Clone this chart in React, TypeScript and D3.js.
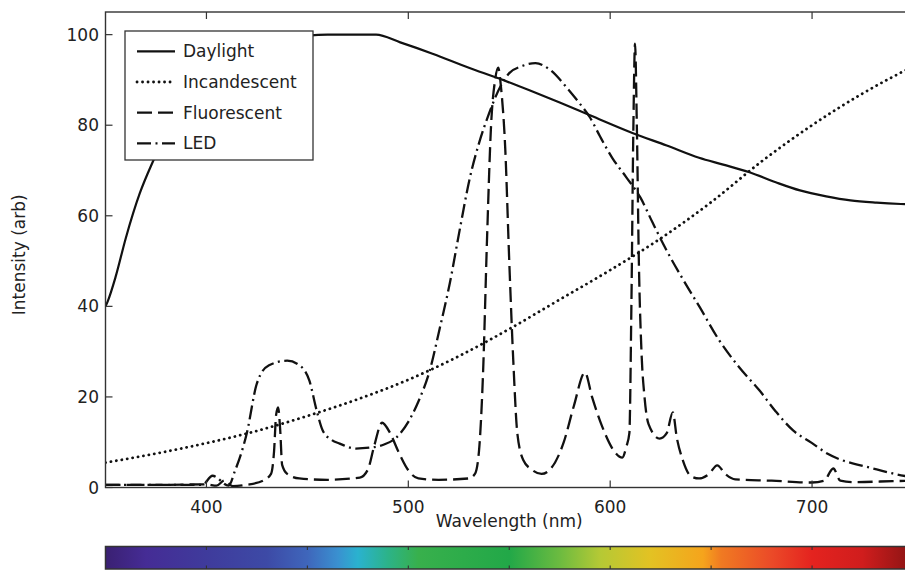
import React from "react";
import * as d3 from "d3";

// ---------- data ----------
const seriesNames = ["Daylight", "Incandescent", "Fluorescent", "LED"];

const xTicks = [400, 500, 600, 700];
const yTicks = [0, 20, 40, 60, 80, 100];
const spectrumTicks = [400, 450, 500, 550, 600, 650, 700, 750];

const daylightNm = [350, 351, 355, 360, 367, 373, 380, 390, 400, 410, 420, 430, 440, 450, 460, 470, 484, 496, 512, 530, 545, 560, 575, 590, 611, 628, 644, 656, 669, 682, 694, 707, 719, 732, 744, 750];
const daylightVal = [40, 41, 46.5, 55, 65, 71.5, 78, 85, 90, 93.5, 96, 98, 99.3, 99.8, 100, 100, 100, 98.3, 95.8, 92.7, 90.3, 87.7, 85, 82.2, 78.3, 75.5, 72.8, 71.3, 69.6, 67.4, 65.6, 64.3, 63.4, 62.9, 62.6, 62.5];

const incandescentNm = [350, 375, 400, 425, 450, 475, 500, 525, 550, 575, 600, 625, 650, 675, 700, 725, 750];
const incandescentVal = [5.5, 7.5, 9.8, 12.5, 15.8, 19.5, 23.8, 29, 35, 41.5, 48, 55, 63, 72, 80, 87, 93];

const fluorescentNm = [350, 380, 400, 405, 409, 413, 420, 428, 432, 433.5, 434.5, 435.5, 436.5, 437.5, 440, 446, 460, 476, 480, 483, 487, 491, 495, 500, 505, 515, 530, 533, 535, 537, 539, 541, 543, 544.5, 546, 548, 550, 552, 554, 557, 561, 566, 571, 577, 582, 587.5, 591, 596, 602, 606, 608, 609.5, 610.5, 611.5, 612.3, 613.2, 614.2, 615.5, 617, 619, 624.5, 628, 631, 633, 636, 640, 644, 649, 653, 657, 662, 680, 700, 706, 710.5, 714, 720, 740, 750];
const fluorescentVal = [0.6, 0.6, 0.7, 0.4, 1.6, 0.3, 0.6, 1.5, 3, 8, 16, 17.7, 13, 5, 3, 2, 1.7, 2.2, 4, 9, 14.3, 12, 8, 3.8, 2, 1.7, 2, 3, 8, 25, 55, 80, 90, 92.7, 88, 75, 50, 28, 12, 6, 4, 3, 4.4, 10, 18, 25.4, 20, 13.5, 8, 6.6, 9, 12, 40, 80, 98, 80, 50, 30, 20, 14, 10.8, 12, 16.6, 11, 6, 2.5, 2, 3, 4.9, 3, 1.8, 1.5, 1.1, 1.5, 4.2, 1.5, 1.2, 1.4, 1.5];

const ledNm = [350, 380, 398, 403, 411, 414, 420, 425, 431, 440, 446, 451, 454.6, 457.6, 462, 466, 474, 481, 488, 494, 500, 505, 510.6, 515.5, 520.5, 525.5, 530.5, 535, 540, 545, 550, 556, 563, 570, 578.5, 584, 590, 595, 601, 608, 615, 621, 628, 636, 644.5, 654, 664, 674, 682, 690.6, 700, 707.5, 715, 724, 732, 740, 750];
const ledVal = [0.6, 0.6, 0.6, 2.6, 0.4, 3.5, 12, 23, 27, 28, 27, 23.6, 17, 12.6, 10.5, 9.7, 8.6, 8.8, 9.5, 11, 14.5, 19, 25.8, 35, 45, 57, 68.4, 76, 82.6, 88, 91.5, 93, 93.7, 92.3, 88.3, 85.3, 81.7, 77.5, 72.8, 68.5, 64, 58.5, 52.3, 46, 39.7, 32.5, 26.5, 21.4, 16.8, 12.6, 9.8, 7.5, 6, 4.9, 4, 3.1, 2.2];

const spectrumNm = [350, 370, 400, 430, 450, 465, 475, 490, 505, 550, 575, 595, 620, 646, 655, 680, 700, 725, 750];
const spectrumColors = ["#3a2072", "#452c95", "#3f3b9c", "#3d4aa6", "#3f66bb", "#3a90d0", "#2ab2cf", "#2cb388", "#38b04c", "#22a848", "#6cbb40", "#b5c935", "#e3c223", "#f5a41c", "#f07a22", "#eb4a28", "#e4231f", "#d01d1d", "#8a1414"];

// ---------- layout ----------
const W = 905;
const H = 571;
const plot = { left: 105.5, right: 913, top: 12, bottom: 487.5 };
const bar = { top: 546.5, bottom: 569 };
const FONT = "'DejaVu Sans', Verdana, sans-serif";
const TXT = "#222";
const AX = "#333";

const styles: Record<string, { dash: string; width: number; cap: string }> = {
  Daylight: { dash: "none", width: 2.2, cap: "butt" },
  Incandescent: { dash: "0.1 5.4", width: 2.8, cap: "round" },
  Fluorescent: { dash: "15 6", width: 2.3, cap: "butt" },
  LED: { dash: "14 4.5 2 4.5", width: 2.3, cap: "butt" },
};

export default function App() {
  const x = d3.scaleLinear().domain([350, 750]).range([plot.left, plot.right]);
  const y = d3.scaleLinear().domain([0, 105]).range([plot.bottom, plot.top]);

  const line = d3
    .line<[number, number]>()
    .x((d) => x(d[0]))
    .y((d) => y(d[1]))
    .curve(d3.curveMonotoneX);

  const zip = (a: number[], b: number[]) => a.map((v, i) => [v, b[i]] as [number, number]);
  const series: Record<string, [number, number][]> = {
    Daylight: zip(daylightNm, daylightVal),
    Incandescent: zip(incandescentNm, incandescentVal),
    Fluorescent: zip(fluorescentNm, fluorescentVal),
    LED: zip(ledNm, ledVal),
  };

  const legend = { x: 125, y: 31, w: 188, h: 129 };

  return (
    <svg
      width={W}
      height={H}
      style={{ position: "absolute", left: 0, top: 0, background: "#fff" }}
      fontFamily={FONT}
    >
      <defs>
        <clipPath id="plotclip">
          <rect x={plot.left} y={plot.top} width={plot.right - plot.left} height={plot.bottom - plot.top} />
        </clipPath>
        <linearGradient id="spec" x1="0" x2="1" y1="0" y2="0">
          {spectrumNm.map((nm, i) => (
            <stop key={i} offset={(nm - 350) / 400} stopColor={spectrumColors[i]} />
          ))}
        </linearGradient>
      </defs>

      <g clipPath="url(#plotclip)">
        {seriesNames.map((name) => (
          <path
            key={name}
            d={line(series[name]) || ""}
            fill="none"
            stroke="#111"
            strokeWidth={styles[name].width}
            strokeDasharray={styles[name].dash}
            strokeLinecap={styles[name].cap as any}
          />
        ))}
      </g>

      {/* frame */}
      <rect
        x={plot.left}
        y={plot.top}
        width={plot.right - plot.left}
        height={plot.bottom - plot.top}
        fill="none"
        stroke={AX}
        strokeWidth={1.4}
      />

      {/* x ticks */}
      {xTicks.map((t) => (
        <g key={t}>
          <line x1={x(t)} x2={x(t)} y1={plot.bottom} y2={plot.bottom - 7} stroke={AX} strokeWidth={1.2} />
          <line x1={x(t)} x2={x(t)} y1={plot.top} y2={plot.top + 7} stroke={AX} strokeWidth={1.2} />
          <text x={x(t)} y={512.5} textAnchor="middle" fontSize={17} fill={TXT}>
            {t}
          </text>
        </g>
      ))}

      {/* y ticks */}
      {yTicks.map((t) => (
        <g key={t}>
          <line x1={plot.left} x2={plot.left + 7} y1={y(t)} y2={y(t)} stroke={AX} strokeWidth={1.2} />
          <line x1={plot.right} x2={plot.right - 7} y1={y(t)} y2={y(t)} stroke={AX} strokeWidth={1.2} />
          <text x={99} y={y(t)} dy="0.36em" textAnchor="end" fontSize={17} fill={TXT}>
            {t}
          </text>
        </g>
      ))}

      <text x={(plot.left + plot.right) / 2} y={527} textAnchor="middle" fontSize={17} fill={TXT}>
        Wavelength (nm)
      </text>
      <text
        transform={`translate(25, ${(plot.top + plot.bottom) / 2 + 5}) rotate(-90)`}
        textAnchor="middle"
        fontSize={17}
        fill={TXT}
      >
        Intensity (arb)
      </text>

      {/* legend */}
      <rect x={legend.x} y={legend.y} width={legend.w} height={legend.h} fill="#fff" stroke={AX} strokeWidth={1.3} />
      {seriesNames.map((name, i) => {
        const by = 57.3 + i * 30.7;
        return (
          <g key={name}>
            <line
              x1={137}
              x2={175}
              y1={by - 6}
              y2={by - 6}
              stroke="#111"
              strokeWidth={styles[name].width}
              strokeDasharray={styles[name].dash}
              strokeLinecap={styles[name].cap as any}
            />
            <text x={183} y={by} fontSize={17} fill={TXT}>
              {name}
            </text>
          </g>
        );
      })}

      {/* spectrum bar */}
      <rect
        x={plot.left}
        y={bar.top}
        width={plot.right - plot.left}
        height={bar.bottom - bar.top}
        fill="url(#spec)"
        stroke={AX}
        strokeWidth={1.5}
      />
      {spectrumTicks.map((t) => (
        <g key={t}>
          <line x1={x(t)} x2={x(t)} y1={bar.top} y2={bar.top + 3.5} stroke={AX} strokeWidth={1.1} />
          <line x1={x(t)} x2={x(t)} y1={bar.bottom} y2={bar.bottom - 3.5} stroke={AX} strokeWidth={1.1} />
        </g>
      ))}
    </svg>
  );
}
